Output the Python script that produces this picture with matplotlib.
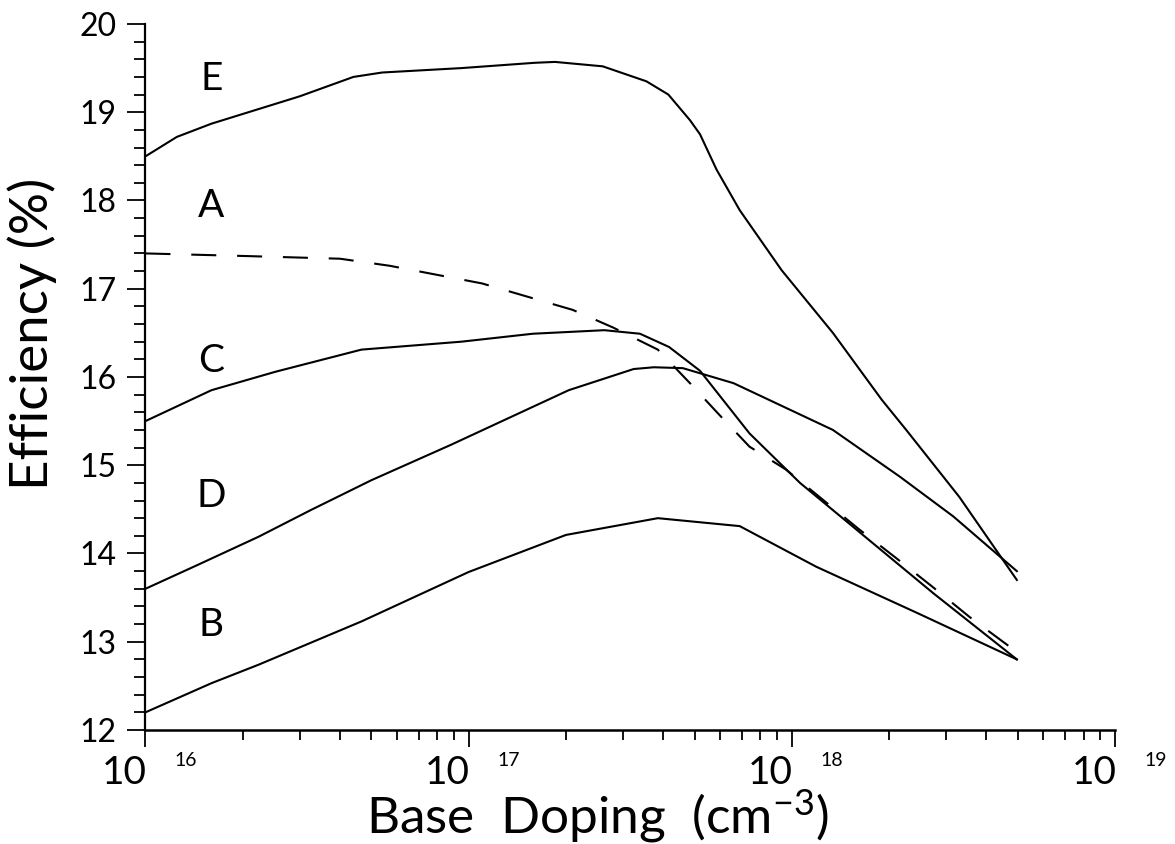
import matplotlib
matplotlib.use('Agg')
import matplotlib.pyplot as plt
from matplotlib.ticker import MultipleLocator, LogLocator, NullFormatter, FixedLocator

plt.rcParams['font.family'] = ['Lato', 'DejaVu Sans']
plt.rcParams['mathtext.fontset'] = 'custom'
plt.rcParams['mathtext.rm'] = 'Lato'
plt.rcParams['mathtext.it'] = 'Lato'

# efficiency vs base doping, one curve per cell design
e_dop = [1e16, 1.25e16, 1.6e16, 3e16, 4.4e16, 5.4e16, 9.5e16, 1.6e17, 1.85e17, 2.6e17,
         3.55e17, 4.15e17, 4.84e17, 5.2e17, 5.85e17, 6.9e17, 9.3e17, 1.34e18, 1.9e18,
         2.26e18, 3.3e18, 4.97e18]
e_eff = [18.5, 18.72, 18.87, 19.18, 19.40, 19.45, 19.50, 19.56, 19.57, 19.52,
         19.35, 19.20, 18.91, 18.75, 18.35, 17.89, 17.21, 16.50, 15.74,
         15.40, 14.64, 13.7]

a_dop = [1e16, 2.06e16, 4e16, 5.7e16, 1.1e17, 2.1e17, 2.8e17, 3.85e17, 4.84e17, 5.9e17,
         7.4e17, 9.6e17, 1.62e18, 2.1e18, 2.73e18, 3.55e18, 4.9e18]
a_eff = [17.4, 17.37, 17.34, 17.26, 17.06, 16.76, 16.56, 16.31, 15.93, 15.59,
         15.21, 14.95, 14.27, 13.95, 13.62, 13.28, 12.9]

c_dop = [1e16, 1.6e16, 2.53e16, 4.66e16, 9.5e16, 1.58e17, 2.63e17, 3.39e17, 4.17e17,
         5.2e17, 7.4e17, 1.06e18, 1.55e18, 2.74e18, 4.97e18]
c_eff = [15.5, 15.85, 16.06, 16.31, 16.40, 16.49, 16.53, 16.49, 16.34,
         16.07, 15.36, 14.80, 14.30, 13.55, 12.8]

d_dop = [1e16, 1.45e16, 2.24e16, 3.24e16, 5e16, 8.8e16, 2.04e17, 3.24e17, 3.74e17,
         4.6e17, 6.6e17, 1.34e18, 2.16e18, 3.16e18, 4.97e18]
d_eff = [13.6, 13.87, 14.19, 14.49, 14.83, 15.23, 15.85, 16.09, 16.11,
         16.10, 15.93, 15.40, 14.87, 14.42, 13.8]

b_dop = [1e16, 1.6e16, 2.24e16, 4.66e16, 1e17, 2e17, 3.85e17, 6.9e17, 1.19e18, 2.43e18, 4.97e18]
b_eff = [12.2, 12.53, 12.74, 13.23, 13.79, 14.21, 14.40, 14.31, 13.85, 13.33, 12.8]

curve_names = ['E', 'A', 'C', 'D', 'B']
name_x = [1.6e16] * 5
name_y = [19.38, 17.94, 16.18, 14.65, 13.19]

decades = [1e16, 1e17, 1e18, 1e19]
exponents = ['16', '17', '18', '19']

fig = plt.figure(figsize=(11.75, 8.44), dpi=100)
ax = fig.add_axes([0.1238, 0.1351, 0.8251, 0.8365])

ax.plot(e_dop, e_eff, color='black', lw=1.5)
ax.plot(a_dop, a_eff, color='black', lw=1.5, dashes=(12, 10))
ax.plot(c_dop, c_eff, color='black', lw=1.5)
ax.plot(d_dop, d_eff, color='black', lw=1.5)
ax.plot(b_dop, b_eff, color='black', lw=1.5)

for s, x, y in zip(curve_names, name_x, name_y):
    ax.text(x, y, s, fontsize=28, ha='center', va='center')

ax.set_xscale('log')
ax.set_xlim(1e16, 1e19)
ax.set_ylim(12, 20)

ax.spines['top'].set_visible(False)
ax.spines['right'].set_visible(False)
ax.spines['left'].set_linewidth(1.6)
ax.spines['bottom'].set_linewidth(1.8)

ax.yaxis.set_major_locator(MultipleLocator(1))
ax.yaxis.set_minor_locator(MultipleLocator(0.2))
ax.tick_params(axis='y', which='major', direction='out', length=13, width=1.3,
               labelsize=23, pad=8)
ax.tick_params(axis='y', which='minor', direction='out', length=8, width=1.3)

ax.xaxis.set_major_locator(FixedLocator(decades))
ax.xaxis.set_minor_locator(LogLocator(base=10, subs=range(2, 10)))
ax.xaxis.set_major_formatter(NullFormatter())
ax.xaxis.set_minor_formatter(NullFormatter())
ax.tick_params(axis='x', which='major', direction='out', length=12, width=1.3)
ax.tick_params(axis='x', which='minor', direction='out', length=7, width=1.3)

# decade labels drawn as "10" plus a detached exponent
trans = ax.get_xaxis_transform()
for d, e in zip(decades, exponents):
    ax.annotate('10', xy=(d, 0), xycoords=trans, xytext=(1, -18),
                textcoords='offset points', ha='right', va='top', fontsize=28,
                annotation_clip=False)
    ax.annotate(e, xy=(d, 0), xycoords=trans, xytext=(21, -16),
                textcoords='offset points', ha='left', va='top', fontsize=14,
                annotation_clip=False)

fig.text(0.027, 0.605, 'Efficiency (%)', rotation=90, fontsize=38,
         ha='center', va='center')
fig.text(0.508, 0.012, 'Base  Doping  (cm$^{-3}$)', fontsize=37,
         ha='center', va='baseline')

fig.savefig('out.png', dpi=100)
